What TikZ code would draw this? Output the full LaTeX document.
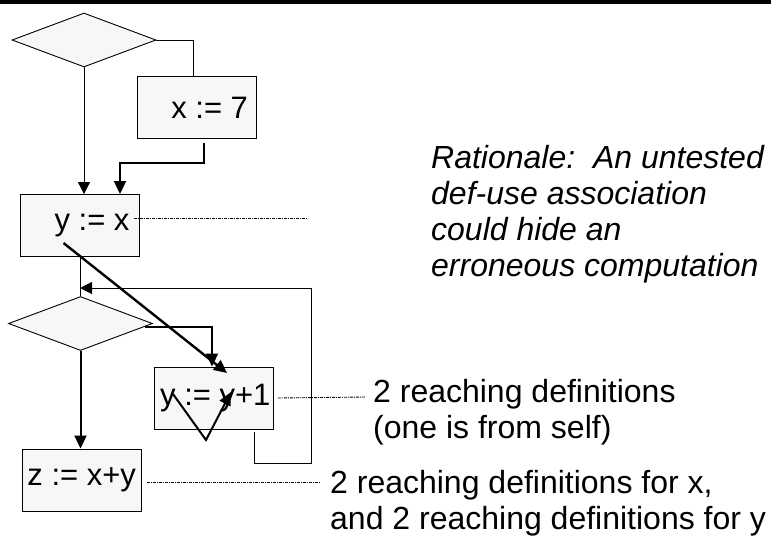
\documentclass[tikz,border=0pt]{standalone}
\usepackage{fontspec}
\setmainfont{Liberation Sans}
\usetikzlibrary{arrows.meta, positioning, shapes.geometric}
\frenchspacing
\definecolor{cfgfill}{HTML}{F7F7F7}
\definecolor{cfgline}{HTML}{000000}
\newcommand{\stmt}[1]{\makebox[113pt][r]{#1}}

\begin{document}
\begin{tikzpicture}[
  x=1pt, y=-1pt,
  every node/.style={font=\fontsize{31}{36}\selectfont},
  blocknode/.style={rectangle, draw=cfgline, line width=0.9pt, fill=cfgfill, minimum width=119pt, minimum height=62pt, inner xsep=3pt, inner ysep=0pt},
  testnode/.style={diamond, draw=cfgline, line width=0.9pt, fill=cfgfill, minimum width=144pt, minimum height=54pt, inner sep=0pt},
  notenode/.style={anchor=base west, inner sep=0pt, font=\fontsize{32}{36}\selectfont},
  whynode/.style={anchor=base west, inner sep=0pt, font=\fontsize{32}{36}\selectfont\itshape},
  edgethin/.style={line width=1pt},
  arrowthin/.style={line width=1pt, -{Triangle[length=12pt, width=12pt]}},
  arrowthick/.style={line width=2pt, -{Triangle[length=13pt, width=12pt]}},
  dotref/.style={line width=0.9pt, dash pattern=on 3pt off 1pt on 1pt off 1pt},
]
\useasboundingbox (0,0) rectangle (771,539);

% rule along the top
\draw[line width=4pt] (0,2) -- (771,2);

% flow graph
\node[testnode] (test1) at (84,40) {};
\node[blocknode] (defx) at (196.5,107.5) {\stmt{x := 7\hspace*{5pt}}};
\node[blocknode] (defy) at (80,225.5) {\stmt{y := x\hspace*{7pt}}};
\node[testnode] (test2) at (80.5,323.5) {};
\node[blocknode] (incy) at (214,398) {\stmt{y := y+1}};
\node[blocknode] (usez) at (81.5,480) {\stmt{z := x+y\hspace*{2pt}}};
\coordinate (join) at (80,288);
\coordinate (yxend) at (307,218);

\draw[edgethin] (test1.east) -| ([xshift=-3.5pt]defx.north);
\draw[arrowthin] (test1.south) -- (test1.south |- defy.north);
\draw[arrowthick] ([shift={(7.5,4.5)}]defx.south) -- ++(0,20) -| ([xshift=40pt]defy.north);
\draw[edgethin] (defy.south) -- (defy.south |- test2.north);
\draw[arrowthin] ([shift={(40,3)}]incy.south) -- ++(0,31) -- ++(57.5,0) |- (join);
\draw[arrowthick] ([shift={(-8,3.5)}]test2.east) -| ([xshift=-2pt]incy.north);
\draw[arrowthick] (test2.south) -- (test2.south |- usez.north);

% def-use pairs
\draw[arrowthick, line width=2.4pt] ([shift={(-16.5,17.5)}]defy.center) -- ([shift={(13,-25)}]incy.center);
\draw[arrowthick] ([shift={(-41,-4)}]incy.center) -- ([shift={(-8,42)}]incy.center) -- ([shift={(17,-6)}]incy.center);

% notes
\node[whynode] (why1) at (431,168) {Rationale:\ \ An untested};
\node[whynode] (why2) at (431,204) {def-use association};
\node[whynode] (why3) at (431,240) {could hide an};
\node[whynode] (why4) at (431,276) {erroneous computation};

\node[notenode] (reach1a) at (373,402) {2 reaching definitions};
\node[notenode] (reach1b) at (373,438) {(one is from self)};
\node[notenode] (reach2a) at (330,493) {2 reaching definitions for x,};
\node[notenode] (reach2b) at (330,529) {and 2 reaching definitions for y};

\draw[dotref] ([shift={(-6,-7.5)}]defy.east) -- (yxend);
\draw[dotref] ([xshift=4pt]incy.east) -- ([shift={(-8,-5)}]reach1a.base west);
\draw[dotref] ([shift={(6,2)}]usez.east) -- ([shift={(-10,-11)}]reach2a.base west);

\end{tikzpicture}
\end{document}
